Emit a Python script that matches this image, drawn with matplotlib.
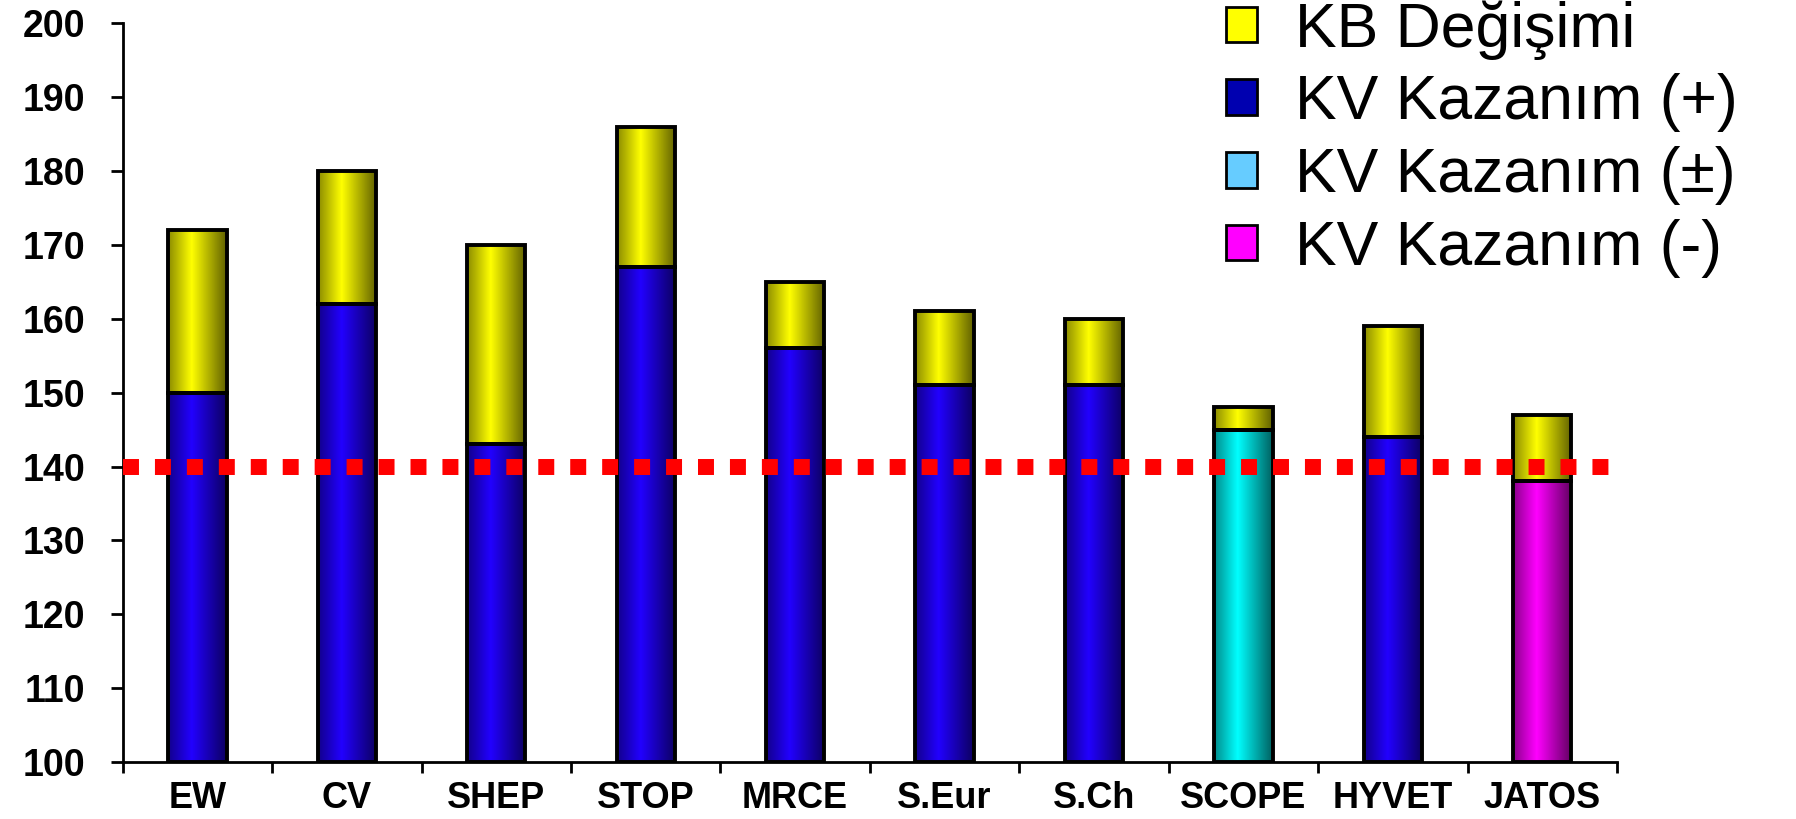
import numpy as np
import matplotlib
matplotlib.use("Agg")
import matplotlib.pyplot as plt
from matplotlib.colors import to_rgb
from matplotlib.patches import Patch

# trial names and blood pressure values (mmHg)
trials = ["EW", "CV", "SHEP", "STOP", "MRCE", "S.Eur", "S.Ch", "SCOPE", "HYVET", "JATOS"]
kv_level = [150, 162, 143, 167, 156, 151, 151, 145, 144, 138]
kb_level = [172, 180, 170, 186, 165, 161, 160, 148, 159, 147]
kv_result = ["+", "+", "+", "+", "+", "+", "+", "±", "+", "-"]
target = 140

legend_labels = ["KB Değişimi", "KV Kazanım (+)", "KV Kazanım (±)", "KV Kazanım (-)"]

kb_change = [t - b for t, b in zip(kb_level, kv_level)]

bar_colors = {"+": "#2200ff", "±": "#00ffff", "-": "#ff00ff"}
yellow = "#ffff00"
legend_colors = [yellow, "#0000b0", "#66ccff", "#ff00ff"]

plt.rcParams["font.family"] = ["Liberation Sans", "DejaVu Sans"]


def shaded(color, n=64):
    # horizontal shading: dim edges, bright just left of centre
    t = np.linspace(0, 1, n)
    f = np.interp(t, [0, 0.4, 1], [0.55, 1.0, 0.38])
    rgb = np.array(to_rgb(color))
    return (rgb[None, :] * f[:, None])[None, :, :]


def draw_bars(ax, x, heights, bottoms, colors, width):
    bars = ax.bar(x, heights, width, bottom=bottoms, facecolor="none",
                  edgecolor="black", linewidth=2.8, zorder=3)
    for rect, c in zip(bars, colors):
        x0, y0 = rect.get_xy()
        ax.imshow(shaded(c), extent=(x0, x0 + rect.get_width(), y0, y0 + rect.get_height()),
                  aspect="auto", interpolation="bilinear", zorder=2)
    return bars


fig = plt.figure(figsize=(17.96, 8.19), dpi=100)
ax = fig.add_axes([0.0683, 0.0696, 0.832, 0.902])

x = np.arange(len(trials))
width = 0.39
kv_base = [100] * len(trials)
draw_bars(ax, x, [v - 100 for v in kv_level], kv_base,
          [bar_colors[r] for r in kv_result], width)
draw_bars(ax, x, kb_change, kv_level, [yellow] * len(trials), width)

# dotted target line
ax.axhline(target, color="#ff0000", linewidth=11.5, linestyle=(0, (1, 1)),
           dash_capstyle="butt", zorder=4)

ax.set_xlim(-0.5, len(trials) - 0.5)
ax.set_ylim(100, 200)
ax.set_yticks(np.arange(100, 201, 10))
ax.tick_params(axis="y", length=9, width=2, pad=18, labelsize=27)
for lab in ax.get_yticklabels():
    lab.set_fontweight("bold")

ax.set_xticks(x)
ax.set_xticklabels(trials, fontsize=26, fontweight="bold")
ax.tick_params(axis="x", length=0, pad=14)
ax.set_xticks(np.arange(-0.5, len(trials)), minor=True)
ax.tick_params(axis="x", which="minor", length=8, width=2, direction="out")

for side in ["top", "right"]:
    ax.spines[side].set_visible(False)
for side in ["left", "bottom"]:
    ax.spines[side].set_linewidth(2)

handles = [Patch(facecolor=c, edgecolor="black", linewidth=2) for c in legend_colors]
fig.legend(handles, legend_labels, loc="upper left",
           bbox_to_anchor=(1226 / 1796, 1.0), frameon=False, fontsize=45,
           handlelength=0.5, handleheight=0.5, handletextpad=0.6,
           labelspacing=0.22, borderpad=0, borderaxespad=0)

fig.savefig("out.png", dpi=100)
